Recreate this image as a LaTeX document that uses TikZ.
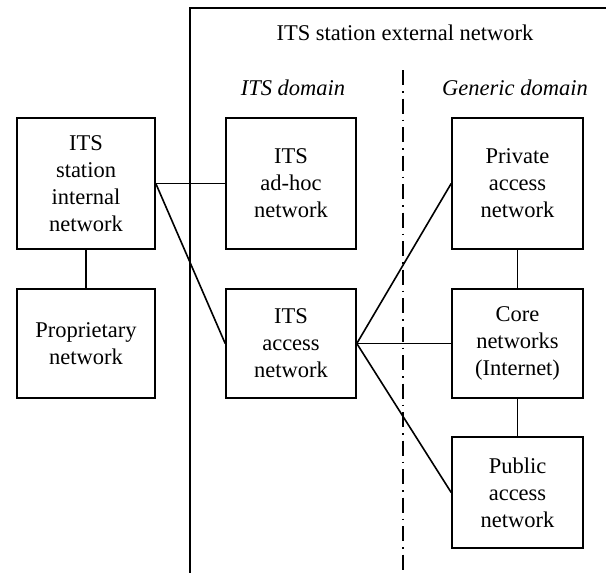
\documentclass[tikz,border=0pt]{standalone}
\usepackage{fontspec}
\setmainfont{Liberation Serif}
\usetikzlibrary{positioning,calc}

\begin{document}
\begin{tikzpicture}[x=1pt,y=-1pt,
    netbox/.style={draw,line width=1.6pt,align=center,minimum width=131,
      font=\fontsize{22.5}{27}\selectfont},
    lbl/.style={font=\fontsize{22.5}{27}\selectfont},
    link/.style={line width=1.6pt}]
  \useasboundingbox (0,0) rectangle (606,573);
	% external network frame
	\coordinate (fbot) at (190,573); \coordinate (ftop) at (190,8); \coordinate (fright) at (606,8);
	\draw[link] (fbot) -- (ftop) -- (fright);
	\node[lbl] (title) at (405,33) {ITS station external network};
	\node[lbl,font=\fontsize{22.5}{27}\selectfont\itshape] (itsdom) at (293,88) {ITS domain};
	\node[lbl,font=\fontsize{22.5}{27}\selectfont\itshape] (gendom) at (515,88) {Generic domain};
	\coordinate (divtop) at (403,70); \coordinate (divbot) at (403,573);
	\draw[line width=1.6pt,dash pattern=on 15pt off 6pt on 1.5pt off 6pt] (divtop) -- (divbot);
	% networks
	\node[netbox,minimum width=138,minimum height=131] (intnet) at (86,183.5) {ITS\\station\\internal\\network};
	\node[netbox,minimum width=138,minimum height=109] (propnet) at (86,343.5) {Proprietary\\network};
	\node[netbox,minimum width=130,minimum height=131] (adhoc) at (291,183.5) {ITS\\ad-hoc\\network};
	\node[netbox,minimum width=130,minimum height=109] (access) at (291,343.5) {ITS\\access\\network};
	\node[netbox,minimum height=131] (private) at (517.5,183.5) {Private\\access\\network};
	\node[netbox,minimum height=109] (core) at (517.5,343.5) {Core\\networks\\(Internet)};
	\node[netbox,minimum height=111] (public) at (517.5,492.5) {Public\\access\\network};
	% links
	\draw[link] (intnet) -- (propnet);
	\draw[link] (intnet.east) -- (adhoc.west);
	\draw[link] (intnet.east) -- (access.west);
	\draw[link] (access.east) -- (private.west);
	\draw[link] (access.east) -- (core.west);
	\draw[link] (access.east) -- (public.west);
	\draw[link] (private) -- (core);
	\draw[link] (core) -- (public);
\end{tikzpicture}
\end{document}
